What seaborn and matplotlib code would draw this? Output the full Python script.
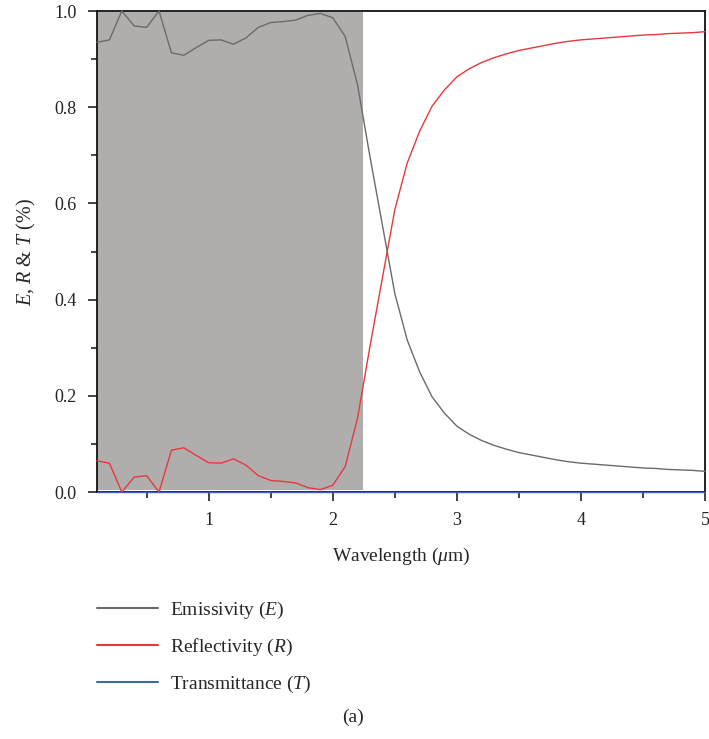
import numpy as np
import pandas as pd
import matplotlib
matplotlib.use("Agg")
import matplotlib.pyplot as plt
import seaborn as sns
from matplotlib.ticker import MultipleLocator

wavelength = [round(0.1 * i, 1) for i in range(1, 51)]

emissivity = [0.935, 0.940, 1.000, 0.969, 0.966, 1.000, 0.913, 0.908, 0.924, 0.939,
              0.940, 0.931, 0.944, 0.966, 0.976, 0.978, 0.981, 0.991, 0.995, 0.986,
              0.947, 0.846, 0.697, 0.555, 0.413, 0.316, 0.250, 0.198, 0.164, 0.137,
              0.120, 0.107, 0.097, 0.089, 0.082, 0.077, 0.072, 0.067, 0.063, 0.060,
              0.058, 0.056, 0.054, 0.052, 0.050, 0.049, 0.047, 0.046, 0.045, 0.043]

reflectivity = [0.065, 0.060, 0.000, 0.031, 0.034, 0.000, 0.087, 0.092, 0.076, 0.061,
                0.060, 0.069, 0.056, 0.034, 0.024, 0.022, 0.019, 0.009, 0.005, 0.014,
                0.053, 0.154, 0.303, 0.445, 0.587, 0.684, 0.750, 0.802, 0.836, 0.863,
                0.880, 0.893, 0.903, 0.911, 0.918, 0.923, 0.928, 0.933, 0.937, 0.940,
                0.942, 0.944, 0.946, 0.948, 0.950, 0.951, 0.953, 0.954, 0.955, 0.957]

transmittance = [0.0] * 50

labels = [r"Emissivity ($E$)", r"Reflectivity ($R$)", r"Transmittance ($T$)"]
colors = ["#6b6b6b", "#e8383d", "#3b68b0"]

shade_start, shade_end = 0.1, 2.24

df = pd.DataFrame({
    "Wavelength": wavelength * 3,
    "Value": emissivity + reflectivity + transmittance,
    "Series": [labels[0]] * 50 + [labels[1]] * 50 + [labels[2]] * 50,
})

sns.set_style("ticks")
plt.rcParams["font.family"] = ["Liberation Serif", "DejaVu Serif"]
plt.rcParams["mathtext.fontset"] = "custom"
plt.rcParams["mathtext.rm"] = "Liberation Serif"
plt.rcParams["mathtext.it"] = "Liberation Serif:italic"

fig = plt.figure(figsize=(7.09, 7.39), dpi=100)
ax = fig.add_axes([0.1368, 0.3342, 0.8576, 0.6509])

ax.axvspan(shade_start, shade_end, ymin=0.005, ymax=0.997, color="#b0aeac", lw=0, zorder=1)

sns.lineplot(data=df, x="Wavelength", y="Value", hue="Series", palette=colors,
             hue_order=labels, ax=ax, lw=1.0, legend=False, zorder=3, clip_on=False)

ax.set_xlim(0.1, 5)
ax.set_ylim(0, 1.0)
ax.xaxis.set_major_locator(MultipleLocator(1))
ax.xaxis.set_minor_locator(MultipleLocator(0.5))
ax.yaxis.set_major_locator(MultipleLocator(0.2))
ax.yaxis.set_minor_locator(MultipleLocator(0.1))
ax.set_xticks([1, 2, 3, 4, 5])
ax.set_xticklabels(["1", "2", "3", "4", "5"])
ax.tick_params(axis="both", which="major", direction="out", length=6.5, width=1.2,
               labelsize=13, colors="#222222", pad=8)
ax.tick_params(axis="both", which="minor", direction="out", length=4, width=1.2)
ax.yaxis.set_major_formatter(matplotlib.ticker.FormatStrFormatter("%.1f"))

for s in ax.spines.values():
    s.set_linewidth(1.3)
    s.set_color("#111111")
    s.set_visible(True)

ax.set_xlabel(r"Wavelength ($\mu$m)", fontsize=14, labelpad=12)
ax.set_ylabel(r"$E$, $R$ & $T$ (%)", fontsize=14.5, labelpad=12)

handles = ax.get_lines()[:3]
leg = fig.legend(handles, labels, loc="upper left", bbox_to_anchor=(0.112, 0.2125),
                 frameon=False, fontsize=14, handlelength=3.15, handletextpad=0.62,
                 labelspacing=0.82)
for l in leg.get_lines():
    l.set_linewidth(1.5)

fig.text(0.498, 0.029, "(a)", fontsize=14, ha="center", va="center")

fig.savefig("out.png", dpi=100)
